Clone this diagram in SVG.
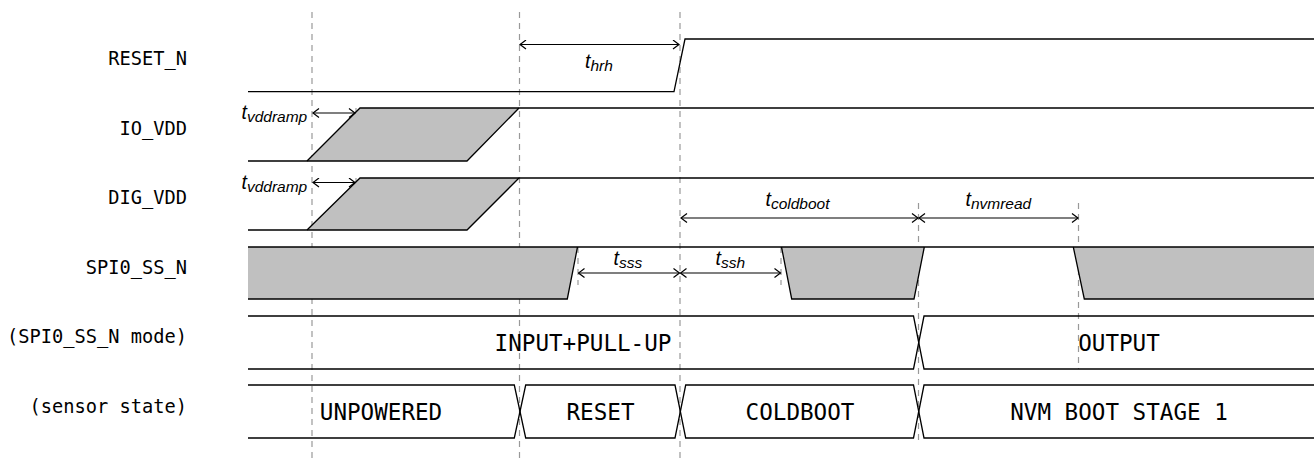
<svg xmlns="http://www.w3.org/2000/svg" width="1314" height="459" viewBox="0 0 1314 459">
<defs>
<marker id="ah" viewBox="-7 -5 8 10" refX="0" refY="0" markerWidth="8" markerHeight="10" markerUnits="userSpaceOnUse" orient="auto-start-reverse">
<path d="M-6,-4.5 L0,0 L-6,4.5" fill="none" stroke="#000" stroke-width="1.2"/>
</marker>
</defs>
<style>
.sig{fill:none;stroke:#000;stroke-width:1.3}
.gfill{fill:#c0c0c0;stroke:none}
.dash{stroke:#999;stroke-width:1.2;stroke-dasharray:6,5;fill:none}
.arr{stroke:#000;stroke-width:1.2;fill:none;marker-start:url(#ah);marker-end:url(#ah)}
.lbl{font-family:"DejaVu Sans Mono",monospace;font-size:18.7px;fill:#000;text-anchor:end}
.bus{font-family:"DejaVu Sans Mono",monospace;font-size:22.6px;fill:#000;text-anchor:middle}
.tm{font-family:"Liberation Sans",Arial,sans-serif;font-style:italic;font-size:19.5px;fill:#000}
.ts{font-size:15.5px}
</style>

<g id="gridlines">
<line class="dash" x1="312" y1="12" x2="312" y2="459"/>
<line class="dash" x1="519.5" y1="12" x2="519.5" y2="459"/>
<line class="dash" x1="680" y1="12" x2="680" y2="459"/>
<line class="dash" x1="918.5" y1="203" x2="918.5" y2="440"/>
<line class="dash" x1="1078.5" y1="203" x2="1078.5" y2="369"/>
<line class="dash" x1="356" y1="108" x2="356" y2="137"/>
<line class="dash" x1="356" y1="178" x2="356" y2="205"/>
<line class="dash" x1="578" y1="247" x2="578" y2="285"/>
<line class="dash" x1="781" y1="247" x2="781" y2="285"/>
</g>

<g id="labels">
<text class="lbl" x="187" y="65">RESET_N</text>
<text class="lbl" x="187" y="134.5">IO_VDD</text>
<text class="lbl" x="187" y="204">DIG_VDD</text>
<text class="lbl" x="187" y="273.5">SPI0_SS_N</text>
<text class="lbl" x="187" y="343">(SPI0_SS_N mode)</text>
<text class="lbl" x="187" y="412.5">(sensor state)</text>
</g>

<g id="reset_n">
<polyline class="sig" points="248,91.7 674,91.7 685,39 1314,39"/>
</g>

<g id="io_vdd">
<polygon class="gfill" points="307,161 360,108 519,108 467,161"/>
<polyline class="sig" points="248,161 467,161 519,108"/>
<polyline class="sig" points="307,161 360,108 1314,108"/>
</g>

<g id="dig_vdd">
<polygon class="gfill" points="307,230 360,178 519,178 467,230"/>
<polyline class="sig" points="248,230 467,230 519,178"/>
<polyline class="sig" points="307,230 360,178 1314,178"/>
</g>

<g id="spi0_ss_n">
<polygon class="gfill" points="248,247 577.5,247 567.3,299 248,299"/>
<polygon class="gfill" points="781.5,247 791.7,299 914,299 924.3,247"/>
<polygon class="gfill" points="1073.3,247 1084.3,299 1314,299 1314,247"/>
<polyline class="sig" points="248,247 1314,247"/>
<polyline class="sig" points="248,299 567.3,299 577.5,247"/>
<polyline class="sig" points="781.5,247 791.7,299 914,299 924.3,247"/>
<polyline class="sig" points="1073.3,247 1084.3,299 1314,299"/>
</g>

<g id="spi0_ss_n_mode">
<polyline class="sig" points="248,316 913.5,316 924,369 1314,369"/>
<polyline class="sig" points="248,369 913.5,369 924,316 1314,316"/>
<text class="bus" x="583" y="350.7">INPUT+PULL-UP</text>
<text class="bus" x="1119" y="350.7">OUTPUT</text>
</g>

<g id="sensor_state">
<polyline class="sig" points="248,385 514.3,385 525.7,438 675,438 685.7,385 913.5,385 924,438 1314,438"/>
<polyline class="sig" points="248,438 514.3,438 525.7,385 675,385 685.7,438 913.5,438 924,385 1314,385"/>
<text class="bus" x="381" y="420">UNPOWERED</text>
<text class="bus" x="600.5" y="420">RESET</text>
<text class="bus" x="800" y="420">COLDBOOT</text>
<text class="bus" x="1119" y="420">NVM BOOT STAGE 1</text>
</g>

<g id="connectors">
<line class="arr" x1="520" y1="44.5" x2="679" y2="44.5"/>
<line class="arr" x1="313" y1="113" x2="355" y2="113"/>
<line class="arr" x1="313" y1="182.5" x2="355" y2="182.5"/>
<line class="arr" x1="681" y1="218" x2="918" y2="218"/>
<line class="arr" x1="919" y1="218" x2="1078" y2="218"/>
<line class="arr" x1="578.5" y1="273" x2="679.5" y2="273"/>
<line class="arr" x1="680.5" y1="273" x2="780.5" y2="273"/>
</g>

<g id="timing_labels">
<text class="tm" x="585" y="68">t<tspan class="ts" dy="3">hrh</tspan></text>
<text class="tm" x="241.5" y="119">t<tspan class="ts" dy="3">vddramp</tspan></text>
<text class="tm" x="241.5" y="188.5">t<tspan class="ts" dy="3">vddramp</tspan></text>
<text class="tm" x="765.5" y="206.3">t<tspan class="ts" dy="3">coldboot</tspan></text>
<text class="tm" x="965.5" y="206.3">t<tspan class="ts" dy="3">nvmread</tspan></text>
<text class="tm" x="613.5" y="265">t<tspan class="ts" dy="3">sss</tspan></text>
<text class="tm" x="715.5" y="265">t<tspan class="ts" dy="3">ssh</tspan></text>
</g>
</svg>
